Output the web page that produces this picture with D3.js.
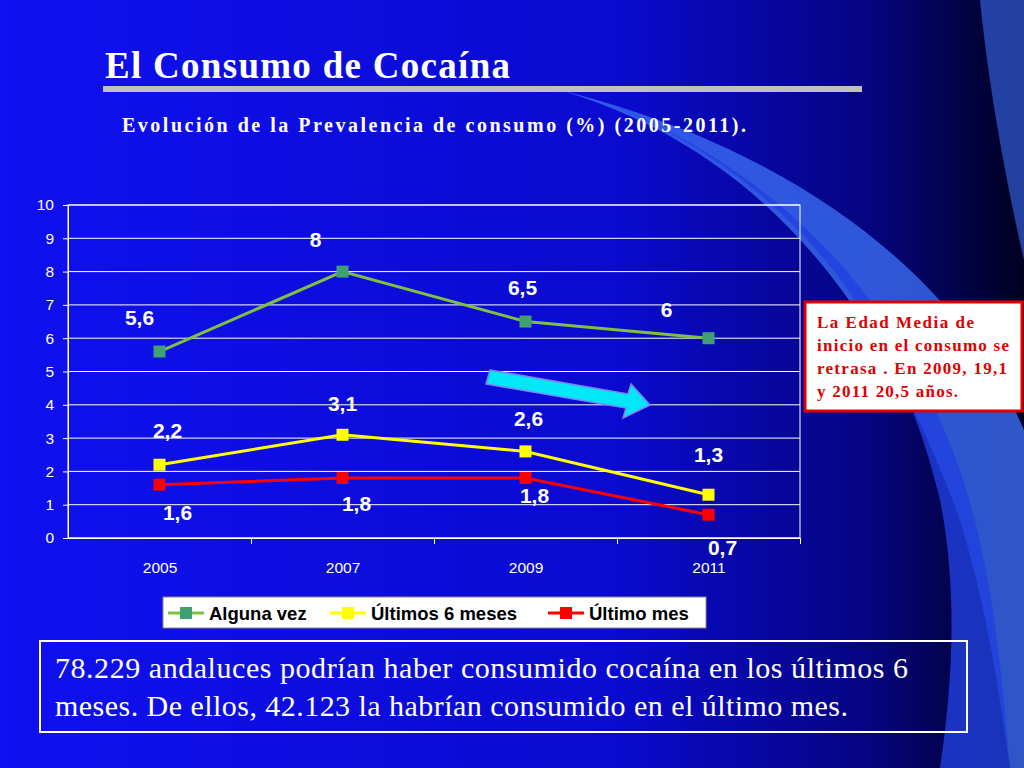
<!DOCTYPE html>
<html><head><meta charset="utf-8">
<script src="https://cdn.jsdelivr.net/npm/d3@7"></script>
<style>body{margin:0;overflow:hidden}</style></head>
<body><svg id="c" width="1024" height="768"></svg>
<script>
const years=["2005","2007","2009","2011"];
const alguna=[5.6,8,6.5,6];
const seis=[2.2,3.1,2.6,1.3];
const mes=[1.6,1.8,1.8,0.7];
const labAlguna=["5,6","8","6,5","6"];
const labSeis=["2,2","3,1","2,6","1,3"];
const labMes=["1,6","1,8","1,8","0,7"];
const yTicks=[0,1,2,3,4,5,6,7,8,9,10];

const svg=d3.select("#c");
const defs=svg.append("defs");
const g1=defs.append("linearGradient").attr("id","bg").attr("x1","0").attr("x2","1").attr("y1","0").attr("y2","0");
g1.append("stop").attr("offset","0").attr("stop-color","#1010f0");
g1.append("stop").attr("offset","0.6").attr("stop-color","#0a0ad0");
g1.append("stop").attr("offset","0.85").attr("stop-color","#050580");
g1.append("stop").attr("offset","1").attr("stop-color","#000020");
svg.append("rect").attr("width",1024).attr("height",768).attr("fill","url(#bg)");
svg.append("path").attr("d","M560,90 C760,150 880,300 960,520 C990,620 1000,700 1010,768 L1024,768 L1024,430 C960,280 800,150 560,90Z").attr("fill","#3a6cf0").attr("opacity",0.8);
svg.append("path").attr("d","M600,100 C800,180 900,330 940,500 C960,600 950,700 940,768 L1010,768 C1000,650 990,560 960,470 C900,300 780,170 600,100Z").attr("fill","#2040e0").attr("opacity",0.8);
svg.append("path").attr("d","M980,0 C990,100 1010,200 1024,260 L1024,0Z").attr("fill","#3a6cf0").attr("opacity",0.6);

svg.append("text").attr("x",105).attr("y",78).attr("fill","#fff").attr("font-family","Liberation Serif").attr("font-weight","bold").attr("font-size",37).attr("textLength",405).text("El Consumo de Cocaína");
svg.append("rect").attr("x",103).attr("y",86).attr("width",759).attr("height",6).attr("fill","#c0c0c0");
svg.append("text").attr("x",122).attr("y",132).attr("fill","#fff").attr("font-family","Liberation Serif").attr("font-weight","bold").attr("font-size",20).attr("textLength",624).text("Evolución de la Prevalencia de consumo (%) (2005-2011).");

const L=68,R=800,T=205,B=538;
const x=d3.scalePoint().domain(years).range([L,R]).padding(0.5);
const y=d3.scaleLinear().domain([0,10]).range([B,T]);
const gr=svg.append("g");
gr.selectAll("line").data(yTicks).join("line").attr("x1",L).attr("x2",R).attr("y1",d=>y(d)).attr("y2",d=>y(d)).attr("stroke","#fff").attr("stroke-width",1);
gr.append("rect").attr("x",L).attr("y",T).attr("width",R-L).attr("height",B-T).attr("fill","none").attr("stroke","#fff");
const ya=svg.append("g").attr("transform",`translate(${L},0)`).call(d3.axisLeft(y).tickValues(yTicks).tickSize(5).tickPadding(14));
const xa=svg.append("g").attr("transform",`translate(0,${B})`).call(d3.axisBottom(x).tickSize(0).tickPadding(24));
[ya,xa].forEach(a=>{a.select(".domain").attr("stroke","#fff");a.selectAll("line").attr("stroke","#fff");a.selectAll("text").attr("fill","#fff").attr("font-family","Liberation Sans").attr("font-size",15.5);});
xa.selectAll(".tick").each(function(d,i){d3.select(this).append("line").attr("x1",x.step()/2).attr("x2",x.step()/2).attr("y2",6).attr("stroke","#fff");});
ya.selectAll("text").attr("x",-14);

svg.append("path").attr("d","M490,370 L628,394 L631,384 L650,405 L623,418 L626,408 L486,384Z").attr("fill","#00e8f8").attr("stroke","#8080ff").attr("stroke-width",1.5);

const series=[
 {v:alguna,c:"#80c040",m:"#40a070",lab:labAlguna,dy:[-27,-25,-27,-21],dx:[-20,-27,-3,-42]},
 {v:seis,c:"#ffff00",m:"#ffff00",lab:labSeis,dy:[-27,-24,-25,-33],dx:[8,0,3,0]},
 {v:mes,c:"#ff0000",m:"#ff0000",lab:labMes,dy:[35,33,25,40],dx:[18,14,9,14]}];
const line=d3.line().x((d,i)=>x(years[i])).y(d=>y(d));
series.forEach(s=>{
 svg.append("path").attr("d",line(s.v)).attr("fill","none").attr("stroke",s.c).attr("stroke-width",3);
 svg.selectAll(null).data(s.v).join("rect").attr("x",(d,i)=>x(years[i])-6).attr("y",d=>y(d)-6).attr("width",12).attr("height",12).attr("fill",s.m);
 svg.selectAll(null).data(s.v).join("text").attr("x",(d,i)=>x(years[i])+s.dx[i]).attr("y",(d,i)=>y(d)+s.dy[i]).attr("text-anchor","middle").attr("fill","#fff").attr("font-family","Liberation Sans").attr("font-weight","bold").attr("font-size",21).text((d,i)=>s.lab[i]);
});

svg.append("rect").attr("x",163).attr("y",597).attr("width",543).attr("height",31).attr("fill","#fff").attr("stroke","#888");
const leg=[{t:"Alguna vez",x:168,c:"#80c040",m:"#40a070"},{t:"Últimos 6 meses",x:330,c:"#ffff00",m:"#ffff00"},{t:"Último mes",x:548,c:"#ff0000",m:"#ff0000"}];
leg.forEach(l=>{
 svg.append("line").attr("x1",l.x).attr("x2",l.x+36).attr("y1",613).attr("y2",613).attr("stroke",l.c).attr("stroke-width",3);
 svg.append("rect").attr("x",l.x+12).attr("y",607).attr("width",12).attr("height",12).attr("fill",l.m);
 svg.append("text").attr("x",l.x+41).attr("y",620).attr("font-family","Liberation Sans").attr("font-weight","bold").attr("font-size",18.5).attr("fill","#000").text(l.t);
});

svg.append("rect").attr("x",805).attr("y",302).attr("width",217).attr("height",109).attr("fill","#fff").attr("stroke","#e00000").attr("stroke-width",3);
[["La Edad Media de",157],["inicio en el consumo se",192],["retrasa . En 2009, 19,1",190],["y 2011 20,5 años.",141]].forEach((t,i)=>svg.append("text").attr("x",817).attr("y",328+i*23).attr("fill","#e00000").attr("font-family","Liberation Serif").attr("font-weight","bold").attr("font-size",17).attr("textLength",t[1]).text(t[0]));

svg.append("rect").attr("x",40).attr("y",641).attr("width",927).attr("height",91).attr("fill","none").attr("stroke","#fff").attr("stroke-width",2);
[["78.229 andaluces podrían haber consumido cocaína en los últimos 6",853],["meses. De ellos, 42.123 la habrían consumido en el último mes.",793]].forEach((t,i)=>svg.append("text").attr("x",55).attr("y",678+i*38).attr("fill","#fff").attr("font-family","Liberation Serif").attr("font-size",30).attr("textLength",t[1]).text(t[0]));
</script></body></html>
